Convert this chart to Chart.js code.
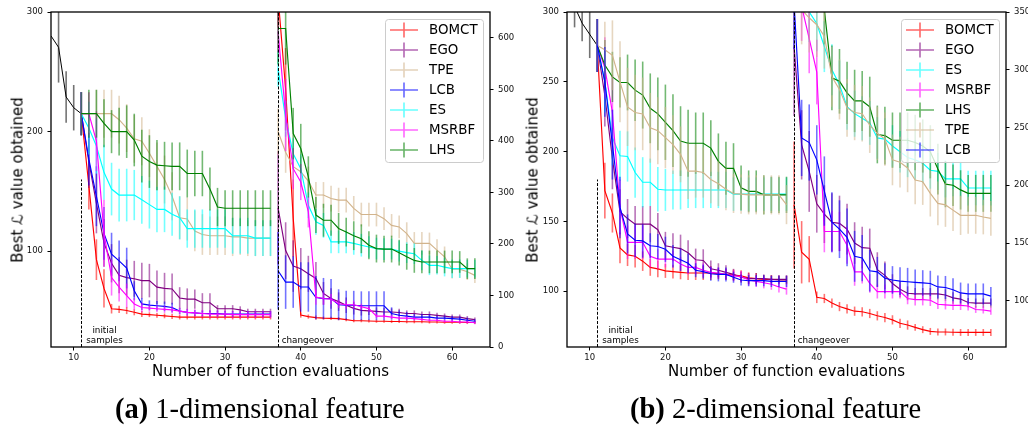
<!DOCTYPE html>
<html>
<head>
<meta charset="utf-8">
<script src="https://cdn.jsdelivr.net/npm/chart.js@4.4.0/dist/chart.umd.min.js"></script>
<style>
  html, body { margin: 0; padding: 0; background: #fff; }
  body { width: 1028px; height: 427px; position: relative; overflow: hidden; font-family: "DejaVu Sans", sans-serif; }
  .panel { position: absolute; top: 0; width: 514px; height: 427px; }
  .xlab { position: absolute; top: 364px; font-size: 15px; line-height: 15px; white-space: nowrap; transform: translateX(-50%); color: #000; }
  .ylab { position: absolute; font-size: 15px; line-height: 15px; white-space: nowrap; transform: translate(-50%, -50%) rotate(-90deg); color: #000; }
  .caption { position: absolute; top: 395px; font-family: "Liberation Serif", "DejaVu Serif", serif; font-size: 28.5px; line-height: 28px; white-space: nowrap; color: #000; }
</style>
</head>
<body>
<canvas id="chartA" class="panel" style="left:0" width="514" height="427"></canvas>
<canvas id="chartB" class="panel" style="left:514px" width="514" height="427"></canvas>
<div class="ylab" style="left:17.5px; top:180px">Best ℒ value obtained</div>
<div class="ylab" style="left:532.5px; top:180px">Best ℒ value obtained</div>
<div class="xlab" style="left:270.5px">Number of function evaluations</div>
<div class="xlab" style="left:786.5px">Number of function evaluations</div>
<div class="caption" style="left:115px"><b>(a)</b> 1-dimensional feature</div>
<div class="caption" style="left:630px"><b>(b)</b> 2-dimensional feature</div>
<script>
// ---- data ----
const xInit = [7, 8, 9, 10, 11];
const xPhase1 = [11, 12, 13, 14, 15, 16, 17, 18, 19, 20, 21, 22, 23, 24, 25, 26, 27, 28, 29, 30, 31, 32, 33, 34, 35, 36];
const xPhase2 = [37, 38, 39, 40, 41, 42, 43, 44, 45, 46, 47, 48, 49, 50, 51, 52, 53, 54, 55, 56, 57, 58, 59, 60, 61, 62, 63];
const xTicks = [10, 20, 30, 40, 50, 60];

const methodsA = ['BOMCT', 'EGO', 'TPE', 'LCB', 'ES', 'MSRBF', 'LHS'];
const methodsB = ['BOMCT', 'EGO', 'ES', 'MSRBF', 'LHS', 'TPE', 'LCB'];

const yTicksA = [100, 200, 300];
const y2TicksA = [0, 100, 200, 300, 400, 500, 600];
const yTicksB = [100, 150, 200, 250, 300];
const y2TicksB = [100, 150, 200, 250, 300, 350];

const initialSampleX = 11;
const changeoverX = 37;
const initLineTopA = 160;
const initLineTopB = 180;

// (a) 1-dimensional feature
const aInit = [280, 270.5, 229, 220, 215];
const aInitErr = [0, 29.5, 21.5, 19, 18];

const a1BOMCT = [215, 155, 93, 69, 52, 51.5, 50.5, 49, 47.5, 47, 46.5, 46, 45.5, 45, 45, 45, 45, 45, 45, 45, 45, 45, 45, 45, 45, 45];
const a1BOMCTErr = [18, 20, 17, 16, 4, 3, 3, 2.5, 2.5, 2, 2, 2, 2, 2, 2, 2, 2, 2, 2, 2, 2, 2, 2, 2, 2, 2];
const a1EGO = [215, 175, 140, 107, 90, 80, 78, 77, 75.5, 75.5, 70, 69, 68.5, 61, 60, 60, 57, 57, 52, 52, 52, 51, 49.5, 49.5, 49.5, 49.5];
const a1EGOErr = [18, 22, 25, 20, 16, 15, 15, 15, 15, 14, 14, 13, 13, 9, 9, 8, 8, 8, 3, 3, 3, 3, 2.5, 2.5, 2.5, 2.5];
const a1TPE = [215, 215, 215, 215, 215, 210, 203, 194, 192, 182, 171, 160, 146, 128, 127, 117, 114, 113, 113, 113, 112, 112, 111, 111, 111, 111];
const a1TPEErr = [18, 18, 20, 20, 20, 20, 20, 20, 20, 20, 20, 20, 20, 18, 18, 17, 17, 16, 16, 16, 16, 15, 15, 15, 15, 15];
const a1LCB = [215, 177, 146, 115, 97.5, 92, 86, 67, 56, 55, 54.5, 54, 53, 50, 49, 48.5, 48, 48, 48, 47.5, 47.5, 47.5, 47.5, 47.5, 47.5, 47.5];
const a1LCBErr = [18, 22, 25, 22, 18, 17, 17, 8, 5, 4, 4, 4, 4, 2.5, 2.5, 2.5, 2.5, 2.5, 2.5, 2.5, 2.5, 2.5, 2.5, 2.5, 2.5, 2.5];
const a1ES = [215, 203, 188, 166, 152, 147, 147, 147, 143, 139, 135, 135, 131, 128, 119, 119, 119, 119, 119, 119, 113, 113, 113, 111, 111, 111];
const a1ESErr = [18, 22, 23, 23, 22, 22, 22, 21, 20, 20, 19, 19, 18, 18, 16, 16, 16, 16, 16, 16, 15, 15, 15, 15, 15, 15];
const a1MSRBF = [215, 215, 192, 115, 78, 70, 63, 56, 53, 52.5, 52, 51.5, 51, 50, 49, 48.5, 48, 47.5, 47.5, 47.5, 47, 47, 47, 47, 47, 47];
const a1MSRBFErr = [18, 18, 25, 28, 15, 12, 10, 5, 4, 3, 3, 3, 3, 3, 3, 3, 3, 3, 3, 3, 3, 3, 3, 3, 3, 3];
const a1LHS = [215, 215, 215, 207, 200, 200, 200, 193, 179.5, 175, 172, 171.5, 171, 171, 165, 165, 165, 152, 137, 136, 136, 136, 136, 136, 136, 136];
const a1LHSErr = [18, 20, 20, 20, 18, 20, 22, 22, 22, 22, 21, 20, 20, 20, 20, 19, 19, 18, 16, 15, 15, 15, 15, 15, 15, 15];

const a2BOMCT = [680, 500, 250, 62, 59, 57, 56, 55.5, 55, 53, 51, 51, 50.5, 50, 50, 49.5, 49.5, 49, 49, 49, 48.5, 48.5, 48, 48, 48, 47.5, 47.5];
const a2BOMCTErr = [60, 80, 75, 5, 4, 4, 3, 3, 3, 3, 3, 3, 3, 3, 3, 3, 3, 3, 3, 3, 3, 3, 3, 3, 3, 3, 3];
const a2EGO = [270, 187, 157, 152, 142, 133, 104, 94, 88, 81, 75, 71, 70, 69, 68, 68, 67, 65, 65, 63, 63, 61.5, 60, 58, 58, 55, 53];
const a2EGOErr = [110, 55, 50, 40, 35, 32, 22, 20, 18, 15, 12, 10, 8, 8, 8, 7, 7, 6, 6, 6, 6, 5, 5, 5, 5, 5, 4];
const a2TPE = [418, 378, 350, 340, 322, 295, 295, 288, 285, 285, 269, 257, 257, 257, 249, 236, 233, 220, 201, 201, 201, 188, 175, 151, 151, 146, 139];
const a2TPEErr = [45, 40, 35, 30, 28, 25, 25, 25, 24, 24, 24, 23, 23, 23, 22, 22, 22, 22, 22, 22, 21, 21, 20, 18, 17, 16, 15];
const a2LCB = [148, 126, 126, 116.5, 116.5, 96, 94, 94, 82, 81, 81, 80, 80, 80, 80, 65, 61.5, 60, 58, 58, 58, 56, 56, 55, 54, 52, 50];
const a2LCBErr = [75, 52, 50, 48, 48, 42, 40, 38, 30, 28, 28, 28, 28, 28, 28, 12, 10, 8, 6, 6, 6, 5, 5, 5, 5, 5, 4];
const a2ES = [540, 443, 375, 346, 275, 243, 236, 204, 204, 204, 201, 197.5, 194, 191, 190, 190, 186, 183, 181, 168, 158.5, 158.5, 155, 152, 152, 152, 152];
const a2ESErr = [35, 35, 30, 28, 25, 25, 24, 22, 22, 22, 22, 22, 21, 21, 21, 20, 20, 20, 20, 19, 19, 18, 18, 18, 18, 17, 17];
const a2MSRBF = [612, 450, 346, 320, 262, 97, 94, 93, 84, 82, 82, 78, 74.5, 60, 60, 58, 56, 56, 55, 53.5, 52, 52, 50, 50, 48.5, 48.5, 47];
const a2MSRBFErr = [40, 70, 40, 35, 30, 15, 12, 10, 8, 8, 8, 6, 6, 4, 4, 4, 4, 4, 4, 3, 3, 3, 3, 3, 3, 3, 3];
const a2LHS = [618, 618, 414, 385, 330, 256, 246, 246, 230, 223, 216, 210, 197.5, 191, 190, 190, 183, 175, 168, 165, 165, 165, 165, 165, 165, 152, 152];
const a2LHSErr = [70, 70, 50, 48, 40, 35, 32, 30, 30, 28, 28, 28, 27, 27, 26, 26, 25, 25, 24, 22, 22, 22, 22, 22, 21, 20, 20];

// (b) 2-dimensional feature
const bInit = [318, 304, 292, 284, 276];
const bInitErr = [0, 15, 13, 17, 19];

const b1BOMCT = [276, 172, 156, 131, 126, 125, 121.5, 117, 116, 114.5, 114, 113.5, 113, 113, 113, 113, 112.5, 112, 111.5, 111, 109.5, 109, 108.5, 108.5, 108, 108];
const b1BOMCTErr = [19, 20, 14, 11, 8, 8, 7, 6, 6, 5, 5, 5, 5, 5, 5, 5, 4, 4, 4, 4, 4, 4, 3, 3, 3, 3];
const b1EGO = [276, 240, 195, 157, 152, 148, 148, 148, 144, 132.5, 131.5, 130.5, 127.5, 122.5, 122, 116, 115, 113.5, 112, 110, 109, 109, 109, 108.5, 108.5, 108.5];
const b1EGOErr = [19, 22, 22, 16, 14, 13, 13, 13, 12, 10, 10, 10, 9, 8, 8, 6, 5, 5, 4, 4, 4, 4, 3, 3, 3, 3];
const b1ES = [276, 250, 210, 197, 196.5, 185, 178, 178, 173, 172.5, 172.5, 172.5, 172.5, 172.5, 172.5, 172.5, 172.5, 172.5, 169.5, 169.5, 169.5, 169.5, 169.5, 169.5, 169.5, 169.5];
const b1ESErr = [19, 22, 20, 18, 18, 18, 18, 17, 16, 15, 14, 14, 13, 13, 13, 13, 13, 13, 12, 12, 12, 12, 12, 12, 12, 12];
const b1MSRBF = [276, 260, 228, 160, 135, 135, 135, 125, 123, 123, 123, 119.5, 117, 117, 115, 113.5, 113, 112, 111, 110.5, 108, 107, 106, 105, 103, 101.5];
const b1MSRBFErr = [19, 22, 27, 20, 12, 12, 12, 8, 7, 6, 6, 5, 5, 5, 5, 4, 4, 4, 4, 4, 4, 4, 4, 4, 4, 4];
const b1LHS = [276, 262, 253.5, 249.5, 249.5, 244, 240.5, 231, 227, 221, 215, 207.5, 206, 206, 206, 202.5, 193, 188, 188, 174, 171.5, 171.5, 169, 169, 169, 169];
const b1LHSErr = [19, 18, 18, 18, 20, 22, 24, 25, 26, 27, 26, 25, 24, 22, 22, 20, 20, 19, 18, 16, 15, 15, 14, 13, 13, 13];
const b1TPE = [276, 273, 269, 250, 232, 228, 227, 217, 215, 210, 205, 198, 186, 186, 185, 180, 177, 173, 170, 169.5, 169, 169, 169, 169, 169, 162];
const b1TPEErr = [19, 20, 25, 29, 28, 27, 26, 25, 24, 22, 21, 20, 20, 19, 18, 17, 16, 15, 14, 14, 14, 14, 14, 14, 14, 14];
const b1LCB = [276, 250, 205, 160, 141, 136.5, 136, 132.5, 132, 130, 125, 122.5, 120, 115, 114, 112.5, 112, 112, 110, 108, 107.5, 107.5, 107.5, 107, 107, 107];
const b1LCBErr = [19, 25, 25, 22, 14, 12, 12, 9, 9, 9, 8, 8, 7, 5, 5, 5, 5, 5, 4, 4, 4, 4, 4, 4, 4, 4];

const b2BOMCT = [183, 142, 136, 103, 102, 98, 95, 93, 91, 90.5, 89, 87, 85.5, 83.5, 80.5, 79, 77, 75, 73.5, 73, 73, 72.8, 72.6, 72.6, 72.6, 72.6, 72.6];
const b2BOMCTErr = [55, 27, 20, 5, 4, 4, 4, 4, 4, 4, 4, 4, 4, 4, 4, 4, 3, 3, 3, 3, 3, 3, 3, 3, 3, 3, 3];
const b2EGO = [320, 235, 212, 184, 175, 168, 167, 162, 150, 146, 145.5, 127, 122, 115, 110, 106.5, 106, 106, 106, 106, 105, 102.5, 101.5, 98.5, 98, 98, 98];
const b2EGOErr = [60, 30, 35, 25, 25, 25, 24, 22, 18, 18, 17, 15, 12, 8, 7, 6, 5, 5, 5, 5, 5, 5, 5, 4, 4, 4, 4];
const b2ES = [410, 380, 350, 340, 320, 300, 287, 268, 262, 258, 254, 241, 240, 234, 229, 224, 222, 219, 213, 212, 205.5, 205.5, 205.5, 197.6, 197.6, 197.6, 197.6];
const b2ESErr = [30, 28, 26, 24, 22, 22, 21, 20, 20, 19, 19, 18, 18, 18, 18, 17, 17, 17, 16, 16, 16, 15, 15, 15, 15, 15, 15];
const b2MSRBF = [390, 355, 327, 298, 160, 160, 160, 148, 125, 125, 115, 108, 108, 108, 108, 102, 101, 101, 100.5, 97, 96.5, 96, 96, 95.5, 92.5, 92, 91];
const b2MSRBFErr = [30, 30, 30, 28, 18, 18, 17, 16, 12, 10, 8, 6, 6, 6, 6, 5, 5, 5, 5, 4, 4, 4, 4, 4, 3, 3, 3];
const b2LHS = [420, 410, 400, 385, 352, 293, 290, 280, 273, 273, 268, 244, 243, 239, 239, 239, 237, 234, 229, 214, 201, 200, 196, 193, 193, 193, 193];
const b2LHSErr = [30, 30, 30, 30, 30, 28, 28, 27, 27, 26, 26, 25, 25, 24, 24, 24, 24, 23, 23, 22, 20, 18, 17, 16, 16, 16, 16];
const b2TPE = [360, 352, 345, 339, 329, 294, 283, 267, 263, 262, 252, 245, 240, 222, 220, 215, 204.5, 203, 193, 184.3, 183, 178.5, 174, 174, 174, 172.5, 171.3];
const b2TPEErr = [30, 30, 30, 28, 28, 26, 26, 25, 24, 24, 24, 23, 23, 22, 22, 21, 21, 20, 20, 19, 19, 18, 17, 16, 16, 15, 15];
const b2LCB = [358, 241, 237, 222, 195, 168, 162, 155, 138.5, 137, 126, 125, 119.5, 118, 117, 116.5, 116, 115.5, 115, 112, 111.5, 109.5, 106.8, 106, 106, 106, 104];
const b2LCBErr = [40, 33, 33, 30, 30, 26, 25, 25, 22, 20, 18, 13, 13, 12, 12, 12, 11, 11, 11, 10, 10, 10, 9, 9, 9, 9, 8];

// ---- styling ----
const methodRGB = {
    BOMCT: [255, 0, 0],
    EGO: [128, 0, 128],
    TPE: [210, 180, 140],
    LCB: [0, 0, 255],
    ES: [0, 255, 255],
    MSRBF: [255, 0, 255],
    LHS: [0, 128, 0],
    init: [0, 0, 0]
};
const rgba = (c, a) => `rgba(${c[0]}, ${c[1]}, ${c[2]}, ${a})`;
const FONT = '"DejaVu Sans", sans-serif';

function makeSet(name, xs, ys, errs, axis) {
    const c = methodRGB[name];
    return {
        label: name,
        data: xs.map((x, i) => ({ x: x, y: ys[i] })),
        err: errs,
        barColor: rgba(c, 0.55),
        borderColor: rgba(c, 1),
        borderWidth: name === 'init' ? 1 : 1.15,
        pointRadius: 0,
        fill: false,
        tension: 0,
        yAxisID: axis
    };
}

// error bars are drawn right after their own line, like matplotlib does
const errorBarPlugin = {
    id: 'errorBars',
    afterDatasetDraw(chart, args) {
        const ds = chart.data.datasets[args.index];
        if (!ds.err) return;
        const xs = args.meta.xScale, ys = args.meta.yScale;
        const ctx = chart.ctx, a = chart.chartArea;
        ctx.save();
        ctx.beginPath();
        ctx.rect(a.left, a.top, a.right - a.left, a.bottom - a.top);
        ctx.clip();
        ctx.strokeStyle = ds.barColor;
        ctx.lineWidth = 1.6;
        ds.data.forEach((p, i) => {
            const e = ds.err[i];
            if (!e) return;
            const px = xs.getPixelForValue(p.x);
            ctx.beginPath();
            ctx.moveTo(px, ys.getPixelForValue(p.y - e));
            ctx.lineTo(px, ys.getPixelForValue(p.y + e));
            ctx.stroke();
        });
        ctx.restore();
    }
};

// frame, dashed markers, notes and the legend box
function panelPlugin(cfg) {
    return {
        id: 'panelDecor',
        afterDatasetsDraw(chart) {
            const ctx = chart.ctx, a = chart.chartArea;
            const x = chart.scales.x, y = chart.scales.y;
            ctx.save();
            ctx.strokeStyle = '#000';
            ctx.lineWidth = 1;
            ctx.setLineDash([3, 1.6]);
            const xi = Math.round(x.getPixelForValue(initialSampleX)) + 0.5;
            ctx.beginPath();
            ctx.moveTo(xi, a.bottom);
            ctx.lineTo(xi, y.getPixelForValue(cfg.initTop));
            ctx.stroke();
            const xc = Math.round(x.getPixelForValue(changeoverX)) + 0.5;
            ctx.beginPath();
            ctx.moveTo(xc, a.bottom);
            ctx.lineTo(xc, a.top);
            ctx.stroke();
            ctx.setLineDash([]);

            ctx.fillStyle = '#000';
            ctx.font = '8.8px ' + FONT;
            ctx.textBaseline = 'alphabetic';
            ctx.textAlign = 'center';
            ctx.fillText('initial', xi + 23, a.bottom - 14);
            ctx.fillText('samples', xi + 23, a.bottom - 4.5);
            ctx.textAlign = 'left';
            ctx.fillText('changeover', xc + 3.2, a.bottom - 4.5);

            ctx.lineWidth = 1.3;
            ctx.strokeStyle = '#000';
            ctx.strokeRect(a.left, a.top, a.right - a.left, a.bottom - a.top);
            ctx.restore();
        },
        afterDraw(chart) {
            const ctx = chart.ctx, a = chart.chartArea;
            const w = 98, rowH = 20;
            const h = cfg.methods.length * rowH + 3;
            const left = a.right - 7 - w, top = a.top + 7;
            ctx.save();
            ctx.beginPath();
            ctx.roundRect(left + 0.5, top + 0.5, w, h, 3);
            ctx.fillStyle = 'rgba(255, 255, 255, 0.8)';
            ctx.fill();
            ctx.strokeStyle = '#cccccc';
            ctx.lineWidth = 1;
            ctx.stroke();
            ctx.font = '13.4px ' + FONT;
            ctx.textBaseline = 'middle';
            ctx.textAlign = 'left';
            cfg.methods.forEach((m, i) => {
                const cy = top + 11 + i * rowH;
                const c = methodRGB[m];
                ctx.strokeStyle = rgba(c, 0.6);
                ctx.lineWidth = 1.6;
                ctx.beginPath();
                ctx.moveTo(left + 5, cy);
                ctx.lineTo(left + 33, cy);
                ctx.moveTo(left + 19, cy - 7.5);
                ctx.lineTo(left + 19, cy + 7.5);
                ctx.stroke();
                ctx.fillStyle = '#000';
                ctx.fillText(m, left + 44, cy + 1);
            });
            ctx.restore();
        }
    };
}

function tickAxis(pos, min, max, ticks, fitSize) {
    const horizontal = pos === 'bottom';
    return {
        type: 'linear',
        position: pos,
        min: min,
        max: max,
        afterBuildTicks: s => { s.ticks = ticks.map(v => ({ value: v })); },
        afterFit: s => { if (horizontal) s.height = fitSize; else s.width = fitSize; },
        border: { display: false },
        grid: { display: true, drawOnChartArea: false, drawTicks: true, tickLength: 3.5, tickWidth: 1, tickColor: '#000' },
        ticks: {
            autoSkip: false,
            maxRotation: 0,
            padding: horizontal ? 2 : 4.5,
            color: '#111',
            font: { family: FONT, size: 8.5 },
            callback: v => String(v)
        }
    };
}

function buildPanel(canvasId, cfg) {
    const datasets = [];
    datasets.push(makeSet('init', xInit, cfg.init, cfg.initErr, 'y'));
    cfg.methods.forEach(m => datasets.push(makeSet(m, xPhase1, cfg.phase1[m][0], cfg.phase1[m][1], 'y')));
    cfg.methods.forEach(m => datasets.push(makeSet(m, xPhase2, cfg.phase2[m][0], cfg.phase2[m][1], 'y2')));
    // later series on top
    datasets.forEach((d, i) => { d.order = datasets.length - i; });

    const ctx = document.getElementById(canvasId).getContext('2d');
    new Chart(ctx, {
        type: 'line',
        data: { datasets: datasets },
        options: {
            responsive: false,
            animation: false,
            events: [],
            layout: { padding: { top: 12, left: 0, right: 0, bottom: 0 } },
            scales: {
                x: tickAxis('bottom', 7, 65, xTicks, 80),
                y: tickAxis('left', cfg.yMin, cfg.yMax, cfg.yTicks, cfg.leftW),
                y2: tickAxis('right', cfg.y2Min, cfg.y2Max, cfg.y2Ticks, cfg.rightW)
            },
            plugins: {
                legend: { display: false },
                tooltip: { enabled: false }
            }
        },
        plugins: [errorBarPlugin, panelPlugin(cfg)]
    });
}

buildPanel('chartA', {
    methods: methodsA,
    init: aInit, initErr: aInitErr,
    phase1: {
        BOMCT: [a1BOMCT, a1BOMCTErr], EGO: [a1EGO, a1EGOErr], TPE: [a1TPE, a1TPEErr], LCB: [a1LCB, a1LCBErr],
        ES: [a1ES, a1ESErr], MSRBF: [a1MSRBF, a1MSRBFErr], LHS: [a1LHS, a1LHSErr]
    },
    phase2: {
        BOMCT: [a2BOMCT, a2BOMCTErr], EGO: [a2EGO, a2EGOErr], TPE: [a2TPE, a2TPEErr], LCB: [a2LCB, a2LCBErr],
        ES: [a2ES, a2ESErr], MSRBF: [a2MSRBF, a2MSRBFErr], LHS: [a2LHS, a2LHSErr]
    },
    yMin: 20, yMax: 300, yTicks: yTicksA,
    y2Min: 0, y2Max: 650, y2Ticks: y2TicksA,
    leftW: 51, rightW: 24,
    initTop: initLineTopA
});

buildPanel('chartB', {
    methods: methodsB,
    init: bInit, initErr: bInitErr,
    phase1: {
        BOMCT: [b1BOMCT, b1BOMCTErr], EGO: [b1EGO, b1EGOErr], ES: [b1ES, b1ESErr], MSRBF: [b1MSRBF, b1MSRBFErr],
        LHS: [b1LHS, b1LHSErr], TPE: [b1TPE, b1TPEErr], LCB: [b1LCB, b1LCBErr]
    },
    phase2: {
        BOMCT: [b2BOMCT, b2BOMCTErr], EGO: [b2EGO, b2EGOErr], ES: [b2ES, b2ESErr], MSRBF: [b2MSRBF, b2MSRBFErr],
        LHS: [b2LHS, b2LHSErr], TPE: [b2TPE, b2TPEErr], LCB: [b2LCB, b2LCBErr]
    },
    yMin: 60, yMax: 300, yTicks: yTicksB,
    y2Min: 60, y2Max: 350, y2Ticks: y2TicksB,
    leftW: 53, rightW: 22,
    initTop: initLineTopB
});
</script>
</body>
</html>
